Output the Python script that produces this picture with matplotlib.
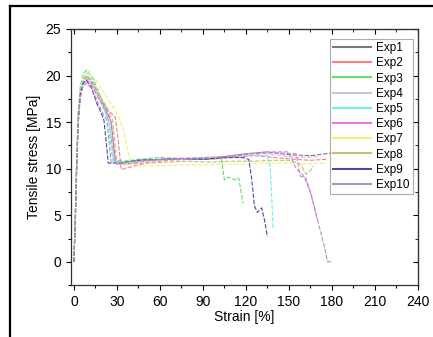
import matplotlib.pyplot as plt
from matplotlib.lines import Line2D
from matplotlib.ticker import MultipleLocator

plt.rcParams['font.family'] = ['Liberation Sans', 'DejaVu Sans']

names = ['Exp1', 'Exp2', 'Exp3', 'Exp4', 'Exp5', 'Exp6', 'Exp7', 'Exp8', 'Exp9', 'Exp10']
colors = ['#7a7a7a', '#ff7f7f', '#66dd66', '#c8c0e8', '#70f0f0',
          '#f070f0', '#f0f070', '#c0c070', '#4a4aa0', '#a898b8']

strain = [
    [0, 1, 2, 3, 4.5, 6.5, 9, 13, 18, 23, 26, 29, 35, 45, 60, 75, 90, 105, 120, 135, 150, 165, 181],
    [0, 1, 2, 3, 4.5, 6.5, 9, 13, 18, 24, 29, 31, 33, 40, 50, 65, 80, 95, 110, 125, 140, 155, 165, 176],
    [0, 1, 2, 3, 4.5, 6.5, 9, 13, 18, 22, 25, 28, 35, 45, 60, 75, 90, 103, 105, 108, 112, 115, 118],
    [0, 1, 2, 3, 4.5, 6.5, 9, 13, 18, 22, 25, 28, 35, 50, 65, 80, 95, 110, 125, 140, 155, 170],
    [0, 1, 2, 3, 4.5, 6.5, 9, 13, 18, 21, 24, 27, 35, 50, 65, 80, 95, 110, 125, 135, 137, 138, 139],
    [0, 1, 2, 3, 4.5, 6.5, 9, 13, 18, 23, 26, 29, 36, 50, 65, 80, 95, 110, 125, 140, 155, 158, 162, 166, 170],
    [0, 1, 2, 3, 4.5, 6.5, 10, 15, 20, 25, 30, 34, 37, 39, 45, 60, 75, 90, 105, 120, 135, 150, 165, 175],
    [0, 1, 2, 3, 4.5, 6.5, 9, 13, 18, 23, 27, 30, 38, 50, 65, 80, 95, 110, 125, 140, 150, 158, 162, 165, 167],
    [0, 1, 2, 3, 4.5, 6.5, 8.5, 12, 16, 19, 21, 24, 32, 45, 60, 75, 90, 105, 118, 122, 124, 126, 128, 131, 133, 135],
    [0, 1, 2, 3, 4.5, 6.5, 9, 13, 17, 20, 23, 26, 33, 45, 60, 75, 90, 105, 120, 135, 150, 155, 160, 165, 170, 175, 177, 180],
]
stress = [
    [0, 5, 11, 15.5, 18.3, 19.6, 20.0, 19.2, 17.6, 16.2, 15.0, 10.8, 10.7, 10.9, 11.0, 11.1, 11.0, 11.3, 11.6, 11.8, 11.5, 11.4, 11.7],
    [0, 4.5, 10.5, 15, 18, 19.3, 19.7, 19.0, 17.6, 16.3, 15.5, 13, 9.9, 10.2, 10.6, 10.9, 11.0, 11.0, 11.2, 11.4, 11.2, 11.0, 10.9, 11.0],
    [0, 5, 11.5, 16, 18.8, 20.2, 20.6, 19.8, 18.0, 16.5, 14.5, 10.9, 10.8, 11.0, 11.2, 11.1, 11.0, 11.1, 8.8, 9.1, 8.8, 9.0, 6.3],
    [0, 4.8, 11, 15.5, 18.2, 19.4, 19.8, 19.0, 17.4, 16.0, 14.8, 10.7, 10.6, 10.9, 11.0, 11.1, 11.2, 11.3, 11.4, 11.5, 11.2, 11.3],
    [0, 5, 11.3, 15.8, 18.6, 19.9, 20.3, 19.5, 17.7, 16.4, 15.0, 10.8, 10.7, 10.9, 11.0, 11.1, 11.1, 11.3, 11.6, 11.3, 10.2, 7.0, 3.6],
    [0, 3.5, 10, 14.8, 17.8, 19.1, 19.5, 18.8, 17.3, 16.0, 15.0, 10.5, 10.5, 10.8, 11.0, 11.0, 11.1, 11.3, 11.6, 11.7, 11.6, 9.2, 9.0, 7.0, 4.5],
    [0, 4.5, 10.8, 15.5, 18.3, 19.7, 20.3, 19.6, 18.4, 17.2, 16.0, 14.5, 12.5, 10.8, 10.3, 10.3, 10.4, 10.4, 10.5, 10.5, 10.6, 10.6, 10.5, 10.6],
    [0, 4.8, 11, 15.6, 18.4, 19.6, 20.0, 19.3, 17.8, 16.6, 15.2, 10.6, 10.5, 10.6, 10.7, 10.8, 10.7, 10.8, 10.8, 10.9, 10.9, 10.5, 9.4, 9.8, 10.3],
    [0, 4.5, 10.5, 15, 18, 19.2, 19.5, 18.8, 17.0, 16.0, 15.2, 10.6, 10.6, 10.9, 11.0, 11.1, 11.0, 11.2, 11.2, 11.0, 9.0, 6.0, 5.3, 5.8, 4.5, 2.7],
    [0, 4.5, 10.5, 14.8, 17.6, 18.9, 19.2, 18.5, 17.0, 16.0, 15.2, 10.6, 10.6, 10.8, 11.0, 11.1, 11.2, 11.3, 11.6, 11.8, 11.8, 10.0, 9.3, 7.5, 4.5, 1.5, 0, 0],
]

fig = plt.figure(figsize=(4.33, 3.37), dpi=100)
ax = fig.add_axes([0.164, 0.154, 0.801, 0.760])

for n, c, x, y in zip(names, colors, strain, stress):
    ax.plot(x, y, color=c, lw=0.8, ls=(0, (4, 1.5)), label=n)

ax.set_xlim(-2, 240)
ax.set_ylim(-2.5, 25)
ax.xaxis.set_major_locator(MultipleLocator(30))
ax.xaxis.set_minor_locator(MultipleLocator(15))
ax.yaxis.set_major_locator(MultipleLocator(5))
ax.yaxis.set_minor_locator(MultipleLocator(2.5))
ax.tick_params(which='both', direction='out', labelsize=10, top=False, right=False)
ax.tick_params(which='major', length=3.5, width=0.8)
ax.tick_params(which='minor', length=2, width=0.8)
for s in ax.spines.values():
    s.set_linewidth(0.9)
    s.set_color('#333333')

# inward mirror ticks on top/right, no labels
sx = ax.secondary_xaxis('top')
sx.xaxis.set_major_locator(MultipleLocator(30))
sx.xaxis.set_minor_locator(MultipleLocator(15))
sx.tick_params(which='both', direction='in', labeltop=False)
sx.tick_params(which='major', length=3.5)
sx.tick_params(which='minor', length=2)
sy = ax.secondary_yaxis('right')
sy.yaxis.set_major_locator(MultipleLocator(5))
sy.yaxis.set_minor_locator(MultipleLocator(2.5))
sy.tick_params(which='both', direction='in', labelright=False)
sy.tick_params(which='major', length=3.5)
sy.tick_params(which='minor', length=2)

ax.set_xlabel('Strain [%]', fontsize=10, labelpad=1)
ax.set_ylabel('Tensile stress [MPa]', fontsize=10, labelpad=3)

leg = ax.legend(loc='upper right', bbox_to_anchor=(0.985, 0.962), fontsize=8.5,
                frameon=True, fancybox=False, edgecolor='#999999', handlelength=3.2,
                handletextpad=0.4, labelspacing=0.27, borderpad=0.3, borderaxespad=0)
leg.get_frame().set_linewidth(0.8)
for ln in leg.get_lines():
    ln.set_linestyle('-')
    ln.set_linewidth(1.5)

# outer frame lines of the cropped figure
fig.add_artist(Line2D([10 / 433, 1], [1 - 6 / 337, 1 - 6 / 337], color='black', lw=1.6))
fig.add_artist(Line2D([10 / 433, 10 / 433], [0, 1 - 6 / 337], color='black', lw=1.6))

fig.savefig('out.png', dpi=100)
